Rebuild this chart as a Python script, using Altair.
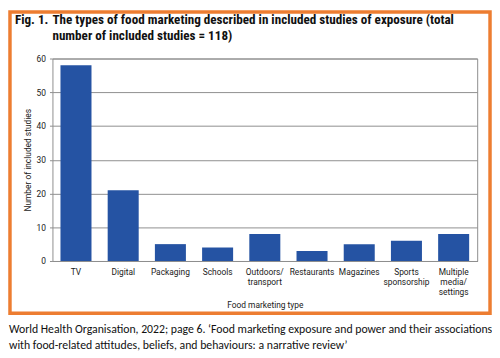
import altair as alt
import pandas as pd

categories = ["TV", "Digital", "Packaging", "Schools", "Outdoors/\ntransport",
              "Restaurants", "Magazines", "Sports\nsponsorship", "Multiple\nmedia/\nsettings"]
studies = [58, 21, 5, 4, 8, 3, 5, 6, 8]

title_fig = "Fig. 1."
title_line1 = "The types of food marketing described in included studies of exposure (total"
title_line2 = "number of included studies = 118)"
caption_line1 = "World Health Organisation, 2022; page 6. \u2018Food marketing exposure and power and their associations"
caption_line2 = "with food-related attitudes, beliefs, and behaviours: a narrative review\u2019"

df = pd.DataFrame({"type": categories, "n": studies})

W, H = 430, 205
TITLE_FONT = "Liberation Sans Narrow, Roboto Condensed, Roboto"
AXIS_FONT = "Roboto"
CAP_FONT = "Carlito, Calibri, Lato"
GRAY = "#8e8e8e"

bars = alt.Chart(df).mark_bar(color="#2553a3").encode(
    x=alt.X("type:N", sort=categories,
            scale=alt.Scale(paddingInner=0.343, paddingOuter=0.17),
            axis=alt.Axis(title="Food marketing type", labelAngle=0,
                          labelExpr="split(datum.label, '\\n')",
                          labelFont=AXIS_FONT, labelFontSize=8.5, labelColor="#1a1a1a",
                          labelLineHeight=10, labelPadding=7, ticks=False,
                          domainColor=GRAY, labelBaseline="top",
                          titleFont=AXIS_FONT, titleFontSize=8.5, titleFontWeight="normal",
                          titleColor="#1a1a1a", titleY=40, titleBaseline="top")),
    y=alt.Y("n:Q", scale=alt.Scale(domain=[0, 60]),
            axis=alt.Axis(title="Number of included studies", values=[0, 10, 20, 30, 40, 50, 60],
                          labelFont=AXIS_FONT, labelFontSize=8.5, labelColor="#1a1a1a",
                          tickSize=3, tickColor=GRAY, labelPadding=4,
                          domain=False, gridColor=GRAY, gridWidth=1,
                          titleFont=AXIS_FONT, titleFontSize=8.5, titleFontWeight="normal",
                          titleColor="#1a1a1a", titleX=-22, titleBaseline="alphabetic")),
)

one = alt.Data(values=[{"k": 1}])

def txt(s, x, y, font, size, weight="normal", color="#111"):
    return alt.Chart(one).mark_text(text=s, font=font, fontSize=size, fontWeight=weight,
                                    align="left", baseline="alphabetic", color=color).encode(
        x=alt.value(x), y=alt.value(y))

frame = alt.Chart(one).mark_rect(fill=None, stroke="#ED7D31", strokeWidth=3.5).encode(
    x=alt.value(-43), x2=alt.value(443), y=alt.value(-47), y2=alt.value(258))

chart = alt.layer(
    bars,
    frame,
    txt(title_fig, -38, -35, TITLE_FONT, 13.3, "bold"),
    txt(title_line1, 0, -35, TITLE_FONT, 13.3, "bold"),
    txt(title_line2, 0, -19, TITLE_FONT, 13.3, "bold"),
    txt(caption_line1, -44, 278, CAP_FONT, 11.9),
    txt(caption_line2, -44, 294, CAP_FONT, 11.9),
).properties(width=W, height=H, padding=0, background="white").configure_view(
    stroke=GRAY, strokeWidth=1)

chart.save("out.html", embed_options={"renderer": "svg", "actions": False})
